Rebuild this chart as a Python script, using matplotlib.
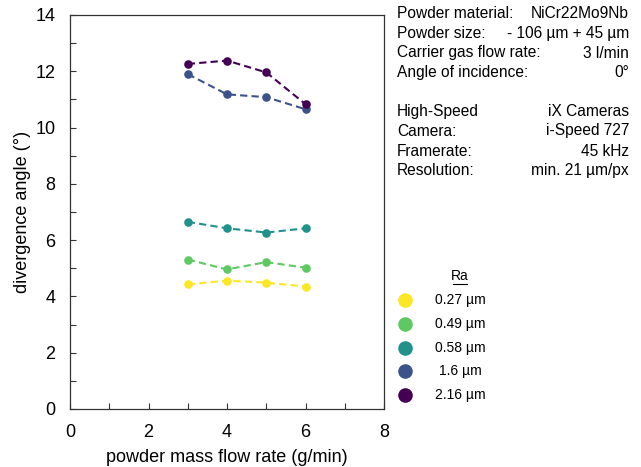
import matplotlib.pyplot as plt
from matplotlib.ticker import MultipleLocator
from matplotlib.lines import Line2D

plt.rcParams['font.family'] = ['Liberation Sans', 'DejaVu Sans']

flow_rate = [3, 4, 5, 6]
ra_labels = ['0.27 µm', '0.49 µm', '0.58 µm', '1.6 µm', '2.16 µm']
colors = ['#fde725', '#5ec962', '#21918c', '#3b528b', '#440154']
angles = [
    [4.43, 4.56, 4.49, 4.35],
    [5.31, 4.96, 5.22, 5.02],
    [6.65, 6.42, 6.27, 6.42],
    [11.90, 11.18, 11.08, 10.65],
    [12.26, 12.38, 11.96, 10.83],
]
info_left = ['Powder material:', 'Powder size:', 'Carrier gas flow rate:', 'Angle of incidence:',
             'High-Speed', 'Camera:', 'Framerate:', 'Resolution:']
info_right = ['NiCr22Mo9Nb', '- 106 µm + 45 µm', '3 l/min', '0°',
              'iX Cameras', 'i-Speed 727', '45 kHz', 'min. 21 µm/px']

fig = plt.figure(figsize=(6.41, 4.67), dpi=100)
ax = fig.add_axes([0.1092, 0.1242, 0.4899, 0.8437])

for vals, c in zip(angles, colors):
    ax.plot(flow_rate, vals, color=c, linestyle=(0, (3.5, 2.0)), linewidth=1.5,
            marker='o', markersize=6.2, markeredgewidth=0)

ax.set_xlim(0, 8)
ax.set_ylim(0, 14)
ax.xaxis.set_major_locator(MultipleLocator(2))
ax.xaxis.set_minor_locator(MultipleLocator(1))
ax.yaxis.set_major_locator(MultipleLocator(2))
ax.yaxis.set_minor_locator(MultipleLocator(1))
ax.tick_params(which='both', direction='in', length=4, width=0.8, color='#333333',
               labelsize=13, top=False, right=False)
ax.tick_params(axis='x', pad=10.5)
ax.tick_params(axis='y', pad=10.5)
for s in ax.spines.values():
    s.set_color('#333333')
    s.set_linewidth(0.9)
ax.set_xlabel('powder mass flow rate (g/min)', fontsize=13, labelpad=6)
ax.set_ylabel('divergence angle (°)', fontsize=13, labelpad=3)

# info block on the right
baselines = [18.5, 38, 57.5, 77, 116, 135.5, 155.5, 175]
for y, l, r in zip(baselines, info_left, info_right):
    fig.text(397 / 641, 1 - y / 467, l, fontsize=11.2, ha='left', va='baseline')
    fig.text(629 / 641, 1 - y / 467, r, fontsize=11.2, ha='right', va='baseline')

# legend drawn by hand
leg = fig.add_axes([385 / 641, 58 / 467, 130 / 641, 150 / 467])
leg.set_xlim(0, 130)
leg.set_ylim(150, 0)
leg.axis('off')
leg.text(75, 17, 'Ra', fontsize=10, ha='center', va='center')
leg.add_line(Line2D([68, 82], [25, 25], color='black', linewidth=0.8))
for i, (lab, c) in enumerate(zip(ra_labels, colors)):
    yy = 41 + i * 23.8
    leg.plot([20], [yy], marker='o', color=c, markersize=10.5, markeredgewidth=0)
    leg.text(75, yy, lab, fontsize=10, ha='center', va='center')

fig.savefig('out.png', dpi=100)
